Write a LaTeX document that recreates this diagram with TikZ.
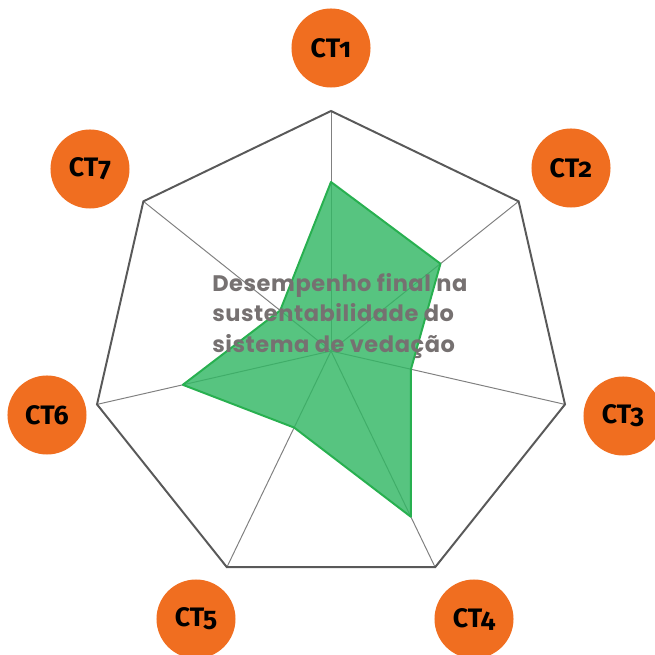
\documentclass[tikz,border=0pt]{standalone}
\usepackage{fontspec}
\setmainfont{Poppins}
\newfontfamily\ctfont[Numbers=OldStyle]{Fira Sans}
\newfontfamily\titlefont[LetterSpace=2.5]{Poppins}
\usetikzlibrary{positioning}
\definecolor{ctorange}{RGB}{240,110,32}
\definecolor{rimcol}{RGB}{89,89,89}
\definecolor{spokecol}{RGB}{128,128,128}
\definecolor{scorecol}{RGB}{50,183,100}
\definecolor{scoreedge}{RGB}{40,176,80}
\definecolor{titlecol}{RGB}{118,113,113}

\begin{document}
\begin{tikzpicture}[x=0.025cm, y=0.025cm,
      ct/.style={circle,fill=ctorange,minimum size=1.975cm,inner sep=0pt,font=\ctfont\bfseries\fontsize{19}{19}\selectfont},
      rim/.style={draw=rimcol,line width=1.4pt,line join=miter},
      spoke/.style={draw=spokecol,line width=0.7pt},
      score/.style={fill=scorecol,fill opacity=0.82,draw=scoreedge,line width=1.4pt,line join=round},
      title/.style={text=titlecol,align=left,inner sep=0pt,font=\titlefont\bfseries\fontsize{16}{22}\selectfont}]
    \useasboundingbox (-331,-304) rectangle (323,351);
    % axes of the heptagon
    \coordinate (o) at (0,0);
    \coordinate (v1) at (90:240);
    \coordinate (v2) at (38.571:240);
    \coordinate (v3) at (-12.857:240);
    \coordinate (v4) at (-64.286:240);
    \coordinate (v5) at (-115.714:240);
    \coordinate (v6) at (-167.143:240);
    \coordinate (v7) at (141.429:240);
    \draw[spoke] (o) -- (v1);
    \draw[spoke] (o) -- (v2);
    \draw[spoke] (o) -- (v3);
    \draw[spoke] (o) -- (v4);
    \draw[spoke] (o) -- (v5);
    \draw[spoke] (o) -- (v6);
    \draw[spoke] (o) -- (v7);
    \draw[rim] (v1) -- (v2) -- (v3) -- (v4) -- (v5) -- (v6) -- (v7) -- cycle;
    % scores
    \coordinate (s1) at (90:169);
    \coordinate (s2) at (38.571:140);
    \coordinate (s3) at (-12.857:82);
    \coordinate (s4) at (-64.286:184);
    \coordinate (s5) at (-115.714:85);
    \coordinate (s6) at (-167.143:152);
    \coordinate (s7) at (141.429:65);
    \draw[score] (s1) -- (s2) -- (s3) -- (s4) -- (s5) -- (s6) -- (s7) -- cycle;
    % criteria
    \node[ct] (ct1) at (0,303)     {CT1};
    \node[ct] (ct2) at (240,183)   {CT2};
    \node[ct] (ct3) at (292,-65)   {CT3};
    \node[ct] (ct4) at (143,-268)  {CT4};
    \node[ct] (ct5) at (-135,-268) {CT5};
    \node[ct] (ct6) at (-284,-64)  {CT6};
    \node[ct] (ct7) at (-241,182)  {CT7};
    \node[title, anchor=west] (result) at (-119,35) {Desempenho final na\\sustentabilidade do\\sistema de vedação};
  \end{tikzpicture}
\end{document}
